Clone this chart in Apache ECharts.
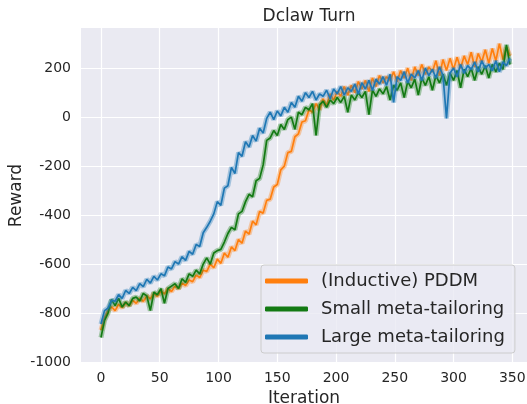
<!DOCTYPE html>
<html>
<head>
<meta charset="utf-8">
<script src="https://cdn.jsdelivr.net/npm/echarts@6/dist/echarts.min.js"></script>
<style>
html, body { margin: 0; padding: 0; background: #fff; }
#chart { width: 527px; height: 404px; }
</style>
</head>
<body>
<div id="chart"></div>
<script>
// iterations (every 3rd one)
var iterations = [
    0, 3, 6, 9, 12, 15, 18, 21, 24, 27,
    30, 33, 36, 39, 42, 45, 48, 51, 54, 57,
    60, 63, 66, 69, 72, 75, 78, 81, 84, 87,
    90, 93, 96, 99, 102, 105, 108, 111, 114, 117,
    120, 123, 126, 129, 132, 135, 138, 141, 144, 147,
    150, 153, 156, 159, 162, 165, 168, 171, 174, 177,
    180, 183, 186, 189, 192, 195, 198, 201, 204, 207,
    210, 213, 216, 219, 222, 225, 228, 231, 234, 237,
    240, 243, 246, 249, 252, 255, 258, 261, 264, 267,
    270, 273, 276, 279, 282, 285, 288, 291, 294, 297,
    300, 303, 306, 309, 312, 315, 318, 321, 324, 327,
    330, 333, 336, 339, 342, 345, 348
];

var pddm = [
    -870, -820, -790, -775, -790, -765, -778, -758, -770, -748,
    -760, -740, -752, -730, -742, -720, -732, -710, -722, -700,
    -712, -690, -700, -678, -688, -665, -672, -645, -655, -625,
    -630, -600, -615, -580, -597, -555, -572, -530, -545, -500,
    -515, -465, -478, -425, -440, -385, -392, -340, -335, -285,
    -275, -215, -200, -145, -140, -80, -68, -20, -15, 30,
    20, 55, 30, 75, 45, 95, 70, 105, 85, 125,
    90, 130, 100, 145, 115, 150, 105, 160, 125, 170,
    140, 165, 150, 185, 145, 190, 160, 200, 150, 205,
    170, 215, 175, 205, 185, 230, 170, 235, 190, 240,
    195, 245, 200, 250, 215, 265, 205, 260, 225, 275,
    220, 280, 230, 300, 235, 285, 250
];

var smallMT = [
    -900, -830, -800, -745, -770, -740, -775, -755, -770, -740,
    -735, -750, -720, -730, -790, -715, -725, -700, -760, -700,
    -690, -680, -700, -660, -675, -640, -650, -625, -640, -600,
    -575, -600, -555, -545, -540, -510, -475, -450, -460, -395,
    -385, -345, -315, -325, -260, -250, -195, -95, -85, -55,
    -75, -30, -50, -10, 0, -50, 20, 10, 40, 30,
    55, -75, 50, 65, 40, 70, 55, 80, 60, 85,
    20, 90, 70, 100, 80, 105, 10, 110, 85, 115,
    95, 125, 70, 130, 110, 140, 80, 145, 120, 155,
    90, 160, 130, 165, 110, 170, 140, 175, 130, 180,
    150, 190, 120, 195, 165, 200, 150, 205, 175, 210,
    160, 215, 185, 220, 195, 295, 215
];

var largeMT = [
    -845, -790, -780, -748, -752, -725, -740, -708, -720, -695,
    -708, -680, -692, -662, -678, -650, -665, -640, -648, -612,
    -620, -590, -600, -570, -585, -548, -560, -520, -528, -472,
    -450, -425, -395, -345, -360, -290, -280, -205, -230, -145,
    -160, -100, -122, -75, -98, -45, -65, -5, 20, -10,
    25, 5, 40, 20, 60, 40, 85, 65, 100, 80,
    105, 70, 95, 85, 110, 75, 115, 95, 125, 90,
    120, 105, 135, 95, 140, 115, 150, 110, 155, 135,
    165, 130, 175, 60, 165, 150, 185, 140, 175, 160,
    190, 150, 200, 170, 195, 160, 205, 170, -5, 180,
    200, 165, 215, 180, 210, 195, 225, 185, 230, 200,
    215, 190, 230, 185, 225, 210, 240
];

var seriesNames = ['(Inductive) PDDM', 'Small meta-tailoring', 'Large meta-tailoring'];
var seriesColors = ['#ff7f0e', '#137a13', '#1f77b4'];
var seriesData = [pddm, smallMT, largeMT];

var txt = '#262626';
var font = 'DejaVu Sans';

function pairs(vals) {
    var out = [];
    for (var i = 0; i < vals.length; i++) {
        out.push([iterations[i], vals[i]]);
    }
    return out;
}

function hideOdd(step) {
    return function (v) {
        return (Math.abs(v % step) < 1e-6) ? String(v) : '';
    };
}

var series = [];
for (var k = 0; k < seriesNames.length; k++) {
    // soft band under the line
    series.push({
        name: seriesNames[k] + ' band',
        type: 'line',
        data: pairs(seriesData[k]),
        showSymbol: false,
        silent: true,
        color: seriesColors[k],
        lineStyle: { width: 5, opacity: 0.35 },
        z: 2 + k * 2
    });
    series.push({
        name: seriesNames[k],
        type: 'line',
        data: pairs(seriesData[k]),
        showSymbol: false,
        color: seriesColors[k],
        lineStyle: { width: 1.7 },
        z: 3 + k * 2
    });
}

var chart = echarts.init(document.getElementById('chart'));
var option = {
    animation: false,
    backgroundColor: '#ffffff',
    title: {
        text: 'Dclaw Turn',
        left: 304,
        top: 3,
        textAlign: 'center',
        textStyle: { fontFamily: font, fontSize: 17, fontWeight: 'normal', color: txt }
    },
    grid: {
        left: 81,
        right: 0,
        top: 28,
        bottom: 41,
        outerBoundsMode: 'none',
        containLabel: false,
        show: true,
        backgroundColor: '#eaeaf2',
        borderWidth: 0
    },
    legend: {
        data: seriesNames,
        orient: 'vertical',
        left: 261,
        top: 265,
        padding: [6, 10, 6, 4],
        itemGap: 8,
        itemWidth: 43,
        itemHeight: 5,
        icon: 'roundRect',
        backgroundColor: 'rgba(234,234,242,0.8)',
        borderColor: '#cccccc',
        borderWidth: 1,
        borderRadius: 3,
        textStyle: { fontFamily: font, fontSize: 18, color: txt, lineHeight: 20, padding: [0, 0, 0, 8] }
    },
    xAxis: {
        type: 'value',
        min: -17,
        max: 362.5,
        splitNumber: 7,
        name: 'Iteration',
        nameLocation: 'middle',
        nameGap: 25,
        nameTextStyle: { fontFamily: font, fontSize: 17, color: txt },
        axisLine: { show: false },
        axisTick: { show: false },
        axisLabel: { margin: 8, fontFamily: font, fontSize: 14, color: txt, formatter: hideOdd(50) },
        splitLine: { show: true, showMinLine: false, showMaxLine: false, lineStyle: { color: '#ffffff', width: 1.2 } }
    },
    yAxis: {
        type: 'value',
        min: -1004,
        max: 364,
        splitNumber: 7,
        name: 'Reward',
        nameLocation: 'middle',
        nameGap: 56,
        nameMoveOverlap: false,
        nameTextStyle: { fontFamily: font, fontSize: 17, color: txt },
        axisLine: { show: false },
        axisTick: { show: false },
        axisLabel: { margin: 10, fontFamily: font, fontSize: 14, color: txt, formatter: hideOdd(200) },
        splitLine: { show: true, showMinLine: false, showMaxLine: false, lineStyle: { color: '#ffffff', width: 1.2 } }
    },
    series: series
};
chart.setOption(option);
</script>
</body>
</html>
